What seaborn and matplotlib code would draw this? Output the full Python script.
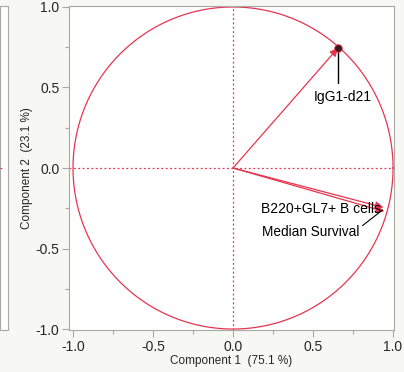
import numpy as np
import pandas as pd
import matplotlib
matplotlib.use("Agg")
import matplotlib.pyplot as plt
from matplotlib.patches import Rectangle
from matplotlib.lines import Line2D
import seaborn as sns

# ── Data (loadings on components 1 and 2) ─────────────────────
variables = ["IgG1-d21", "B220+GL7+ B cells", "Median Survival"]
comp1     = [0.656, 0.940, 0.945]
comp2     = [0.745, -0.245, -0.270]
x_ticks   = [-1.0, -0.5, 0.0, 0.5, 1.0]
y_ticks   = [-1.0, -0.5, 0.0, 0.5, 1.0]
x_label   = "Component 1  (75.1 %)"
y_label   = "Component 2  (23.1 %)"

df = pd.DataFrame({"var": variables, "c1": comp1, "c2": comp2})

RED  = "#e8354f"
GRAY = "#a8a8a8"
BG   = "#f7f7f4"

sns.set_theme(style="white")
plt.rcParams["font.family"] = ["Liberation Sans", "DejaVu Sans"]

fig = plt.figure(figsize=(4.04, 3.72), dpi=100, facecolor=BG)
ax = fig.add_axes([69/404, 42/372, 325/404, 324/372])
ax.set_facecolor("white")

# unit circle + reference lines
t = np.linspace(0, 2*np.pi, 400)
ax.plot(np.cos(t), np.sin(t), color=RED, lw=0.9)
ax.axhline(0, color=RED, lw=0.9, ls=(0, (1.5, 2)))
ax.axvline(0, color=RED, lw=0.9, ls=(0, (1.5, 2)))

# loading arrows from origin
for _, r in df.iterrows():
    ax.annotate("", xy=(r.c1, r.c2), xytext=(0, 0),
                arrowprops=dict(arrowstyle="-|>", color=RED, lw=0.9,
                                mutation_scale=12, shrinkA=0, shrinkB=0))

sns.scatterplot(data=df.iloc[[0]], x="c1", y="c2", s=30, color="#3a1a1e",
                edgecolor=RED, linewidth=0.6, ax=ax, zorder=5, legend=False)

# labels
fs = 10
ax.plot([comp1[0], comp1[0]], [comp2[0], 0.53], color="black", lw=1.0, zorder=4)
ax.text(comp1[0] + 0.03, 0.44, variables[0], ha="center", va="center",
        fontsize=fs, color="black")
ax.text(0.175, -0.255, variables[1], ha="left", va="center", fontsize=fs, color="black")
ax.annotate(variables[2], xy=(comp1[2] - 0.01, comp2[2] + 0.01), xytext=(0.18, -0.40),
            ha="left", va="center", fontsize=9.8, color="black",
            arrowprops=dict(arrowstyle="-", color="black", lw=0.8,
                            shrinkA=0, shrinkB=0,
                            relpos=(1.0, 0.8)))

ax.set_xlim(-1.025, 1.006)
ax.set_ylim(-1.006, 1.006)
ax.set_xticks(x_ticks)
ax.set_yticks(y_ticks)
ax.set_xticks([-0.75, -0.25, 0.25, 0.75], minor=True)
ax.set_yticks([-0.75, -0.25, 0.25, 0.75], minor=True)
ax.set_xticklabels([f"{v:.1f}" for v in x_ticks])
ax.set_yticklabels([f"{v:.1f}" for v in y_ticks])
ax.tick_params(which="major", direction="out", length=5, width=0.8, color=GRAY,
               labelsize=10, pad=2, left=True, bottom=True)
ax.tick_params(which="minor", direction="out", length=3, width=0.8, color=GRAY,
               left=True, bottom=True)
ax.set_xlabel(x_label, fontsize=8.5, labelpad=1)
ax.set_ylabel(y_label, fontsize=8.5, labelpad=2)
for s in ax.spines.values():
    s.set_color(GRAY)
    s.set_linewidth(0.8)

# remnant of neighbouring panel at left edge
fig.patches.append(Rectangle((0, 42/372), 8/404, 324/372, transform=fig.transFigure,
                             facecolor="white", edgecolor=GRAY, lw=0.8))
fig.lines.append(Line2D([0, 4/404], [204/372, 204/372], transform=fig.transFigure,
                        color=RED, lw=0.9, ls=(0, (1.5, 2))))

fig.savefig("out.png", dpi=100, facecolor=BG)
